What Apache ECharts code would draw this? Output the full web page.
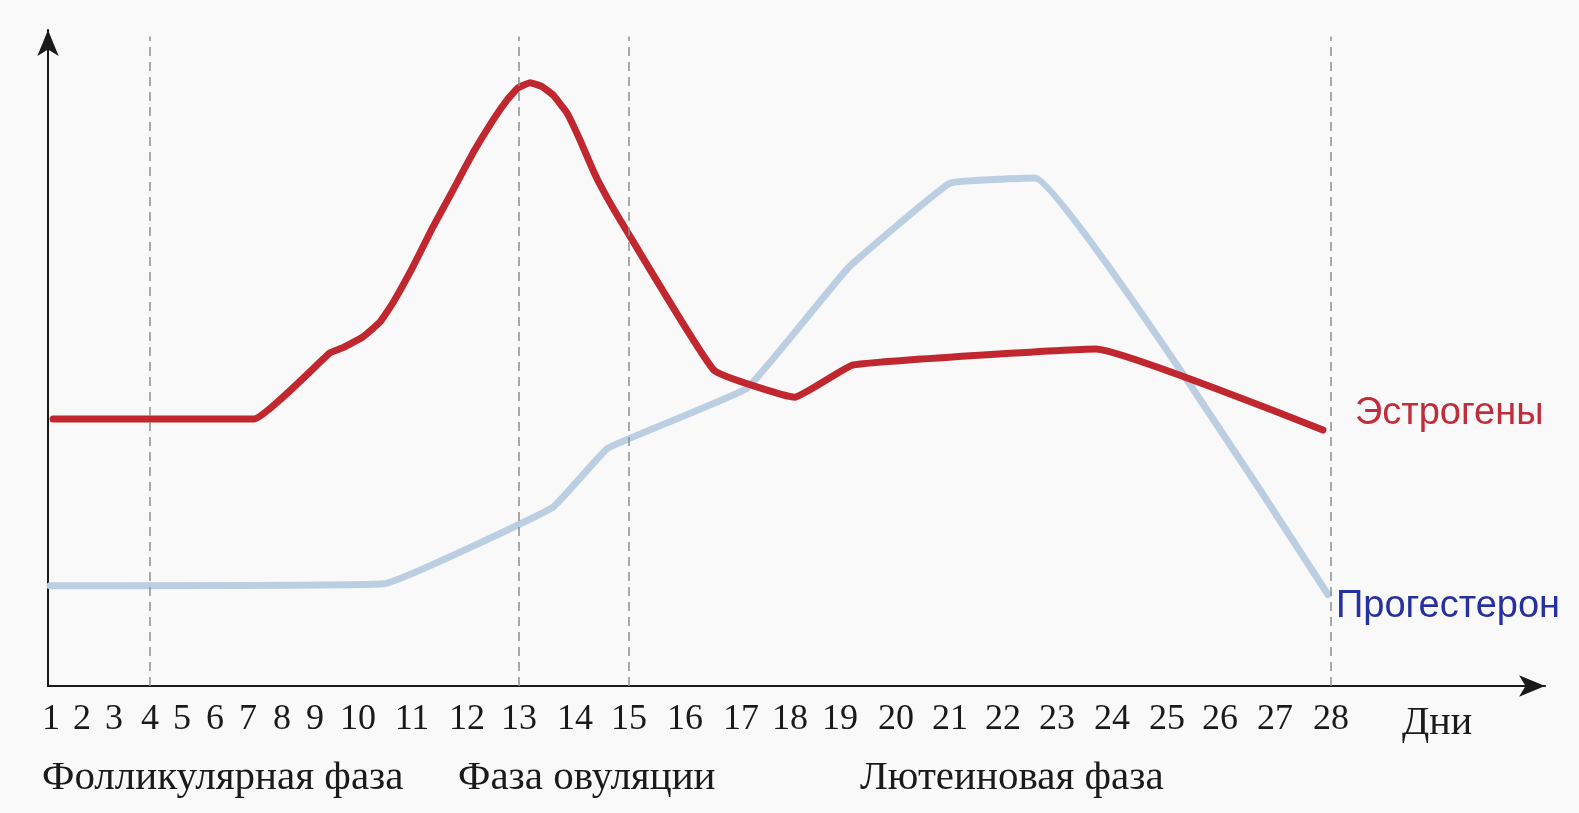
<!DOCTYPE html>
<html>
<head>
<meta charset="utf-8">
<script src="https://cdn.jsdelivr.net/npm/echarts@6/dist/echarts.min.js"></script>
<style>
  html, body { margin: 0; padding: 0; background: #f9f9f9; }
  #chart { width: 1579px; height: 813px; }
</style>
</head>
<body>
<div id="chart"></div>
<script>
// ---- data ----
const dayLabels = ['1','2','3','4','5','6','7','8','9','10','11','12','13','14','15','16','17','18','19','20','21','22','23','24','25','26','27','28'];
// axis value at which each day label sits (the day scale of the picture is not uniform)
const dayTicks = [3,34,66,102,134,167,200,234,267,310,364,419,471,527,581,637,693,742,792,848,902,955,1009,1064,1119,1172,1227,1283];
const phaseBoundaryDays = [4, 13, 15, 28];
const phaseNames = ['Фолликулярная фаза', 'Фаза овуляции', 'Лютеиновая фаза'];
const axisNameText = 'Дни';
const seriesNames = ['Эстрогены', 'Прогестерон'];

const estrogenX = [5, 206, 282, 295, 315, 332, 345, 365, 385, 405, 425, 445, 459, 470, 482, 494, 505, 519, 532, 545, 555, 572, 666, 747, 805, 1048, 1275];
const estrogenY = [41.5, 41.5, 51.8, 52.6, 54.3, 56.6, 59.6, 65.2, 71.4, 77.1, 82.9, 88.0, 91.1, 93.0, 93.8, 93.2, 91.9, 89.1, 84.9, 80.2, 77.1, 72.5, 49.1, 44.9, 49.9, 52.4, 39.8];

const progesteroneX = [2, 336, 505, 560, 699, 800, 902, 987, 1280];
const progesteroneY = [15.6, 15.9, 27.8, 37.0, 46.3, 65.0, 78.2, 79.0, 14.2];

// ---- chart ----
const chart = echarts.init(document.getElementById('chart'), null, { renderer: 'canvas' });

const pairs = (xs, ys) => xs.map((x, i) => [x, ys[i]]);

const serifFont = '"Liberation Serif", "Times New Roman", serif';
const sansFont = '"Liberation Sans", Arial, sans-serif';

const option = {
  backgroundColor: '#f9f9f9',
  animation: false,
  grid: { left: 48, right: 34, top: 30, bottom: 127, containLabel: false, outerBoundsMode: 'none' },
  xAxis: {
    type: 'value',
    min: 0,
    max: 1497,
    splitLine: { show: false },
    axisTick: { show: false },
    axisLine: {
      onZero: false,
      lineStyle: { color: '#1a1a1a', width: 2 },
      symbol: ['none', 'arrow'],
      symbolSize: [16, 26]
    },
    axisLabel: {
      customValues: dayTicks,
      formatter: v => dayLabels[dayTicks.indexOf(v)] || '',
      fontFamily: serifFont,
      fontSize: 36,
      color: '#1a1a1a',
      margin: 16
    }
  },
  yAxis: {
    type: 'value',
    min: 0,
    max: 102,
    splitLine: { show: false },
    axisTick: { show: false },
    axisLabel: { show: false },
    axisLine: {
      show: true,
      onZero: false,
      lineStyle: { color: '#1a1a1a', width: 2 },
      symbol: ['none', 'arrow'],
      symbolSize: [16, 26]
    }
  },
  series: [
    {
      name: seriesNames[1],
      type: 'line',
      data: pairs(progesteroneX, progesteroneY),
      symbol: 'none',
      smooth: 0.08,
      lineStyle: { color: '#bccfe2', width: 7, cap: 'round', join: 'round' },
      endLabel: {
        show: true,
        formatter: '{a}',
        color: '#26309e',
        fontFamily: sansFont,
        fontSize: 38,
        offset: [0, 12]
      },
      z: 2
    },
    {
      name: seriesNames[0],
      type: 'line',
      data: pairs(estrogenX, estrogenY),
      symbol: 'none',
      smooth: 0.1,
      lineStyle: { color: '#c0272e', width: 7, cap: 'round', join: 'round' },
      endLabel: {
        show: true,
        formatter: '{a}',
        color: '#c02c3a',
        fontFamily: sansFont,
        fontSize: 38,
        offset: [24, -17]
      },
      markLine: {
        silent: true,
        symbol: ['none', 'none'],
        label: { show: false },
        lineStyle: { type: [9, 6], color: '#8f8f8f', width: 1.5 },
        data: phaseBoundaryDays.map(d => [
          { xAxis: dayTicks[d - 1], yAxis: 0 },
          { xAxis: dayTicks[d - 1], yAxis: 101 }
        ])
      },
      z: 3
    }
  ],
  graphic: [
    { type: 'text', left: 1402, top: 703, style: { text: axisNameText, font: '40px ' + serifFont, fill: '#1a1a1a' } },
    { type: 'text', left: 42, top: 758, style: { text: phaseNames[0], font: '41px ' + serifFont, fill: '#1a1a1a' } },
    { type: 'text', left: 458, top: 758, style: { text: phaseNames[1], font: '41px ' + serifFont, fill: '#1a1a1a' } },
    { type: 'text', left: 860, top: 758, style: { text: phaseNames[2], font: '41px ' + serifFont, fill: '#1a1a1a' } }
  ]
};

chart.setOption(option);
</script>
</body>
</html>
